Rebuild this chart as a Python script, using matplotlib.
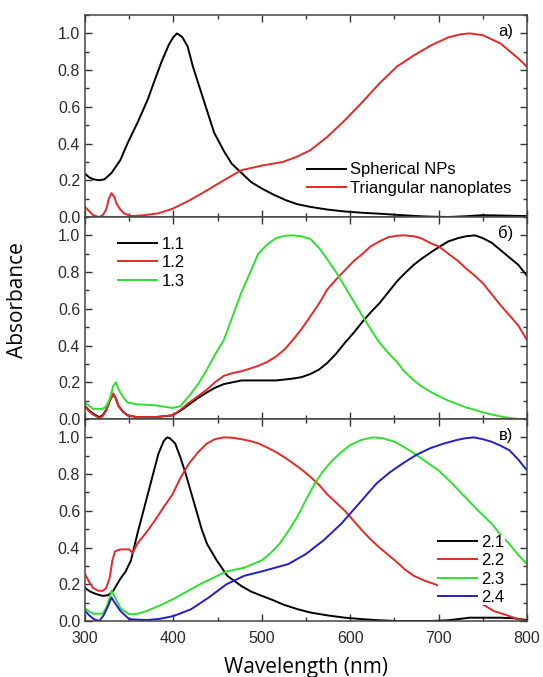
import matplotlib
matplotlib.use("Agg")
import matplotlib.pyplot as plt
from matplotlib.ticker import MultipleLocator

plt.rcParams['font.family'] = ['Liberation Sans', 'DejaVu Sans']

# ---- Panel a) ----
a_sph_wl = [300, 305, 310, 316, 322, 330, 340, 348, 360, 371, 380, 387, 395, 400, 404, 410, 416, 422, 430, 438, 446, 457, 466, 477, 488, 500, 514, 528, 540, 555, 575, 594, 614, 633, 652, 672, 690, 711, 730, 750, 770, 800]
a_sph = [0.236, 0.215, 0.205, 0.20, 0.205, 0.24, 0.31, 0.40, 0.52, 0.64, 0.76, 0.85, 0.94, 0.98, 1.0, 0.98, 0.93, 0.82, 0.70, 0.58, 0.46, 0.36, 0.29, 0.24, 0.19, 0.155, 0.12, 0.09, 0.07, 0.055, 0.04, 0.03, 0.023, 0.018, 0.012, 0.006, 0.002, 0.0, 0.004, 0.01, 0.008, 0.005]
a_tri_wl = [300, 305, 309, 316, 320, 324, 327, 330, 333, 336, 340, 344, 352, 367, 383, 399, 418, 438, 457, 477, 500, 524, 539, 555, 574, 594, 614, 633, 653, 672, 692, 711, 725, 735, 750, 770, 790, 800]
a_tri = [0.055, 0.03, 0.01, 0.0, 0.01, 0.04, 0.10, 0.13, 0.11, 0.07, 0.04, 0.02, 0.005, 0.01, 0.02, 0.045, 0.09, 0.145, 0.20, 0.255, 0.28, 0.30, 0.327, 0.364, 0.436, 0.527, 0.627, 0.727, 0.82, 0.88, 0.936, 0.978, 0.995, 1.0, 0.99, 0.945, 0.864, 0.818]

# ---- Panel б) ----
b_wl = [300, 305, 309, 316, 320, 324, 328, 332, 335, 338, 343, 348, 359, 379, 399, 408, 418, 428, 438, 447, 457, 467, 477, 487, 496, 506, 516, 526, 535, 545, 555, 565, 574, 584, 594, 604, 614, 623, 633, 643, 653, 661, 672, 680, 692, 700, 711, 722, 731, 741, 750, 760, 770, 780, 790, 800]
b_11 = [0.07, 0.045, 0.03, 0.01, 0.02, 0.05, 0.10, 0.135, 0.11, 0.07, 0.04, 0.02, 0.01, 0.01, 0.02, 0.045, 0.08, 0.115, 0.145, 0.17, 0.19, 0.20, 0.21, 0.21, 0.21, 0.21, 0.21, 0.215, 0.22, 0.228, 0.245, 0.27, 0.305, 0.355, 0.415, 0.47, 0.53, 0.58, 0.63, 0.69, 0.75, 0.79, 0.84, 0.87, 0.91, 0.935, 0.967, 0.985, 0.995, 1.0, 0.985, 0.96, 0.92, 0.88, 0.84, 0.78]
b_12 = [0.065, 0.04, 0.025, 0.005, 0.015, 0.045, 0.10, 0.14, 0.11, 0.07, 0.04, 0.02, 0.01, 0.01, 0.02, 0.05, 0.09, 0.125, 0.16, 0.20, 0.235, 0.25, 0.26, 0.275, 0.29, 0.31, 0.34, 0.38, 0.43, 0.49, 0.56, 0.63, 0.705, 0.76, 0.81, 0.86, 0.90, 0.94, 0.967, 0.99, 0.998, 1.0, 0.995, 0.985, 0.955, 0.94, 0.90, 0.86, 0.82, 0.78, 0.74, 0.68, 0.62, 0.565, 0.51, 0.43]
b_13 = [0.09, 0.07, 0.055, 0.055, 0.055, 0.07, 0.11, 0.18, 0.2, 0.16, 0.12, 0.09, 0.08, 0.075, 0.06, 0.07, 0.127, 0.19, 0.27, 0.35, 0.43, 0.56, 0.69, 0.80, 0.90, 0.95, 0.985, 0.998, 1.0, 0.995, 0.98, 0.93, 0.87, 0.80, 0.72, 0.64, 0.56, 0.49, 0.416, 0.36, 0.31, 0.26, 0.21, 0.18, 0.145, 0.125, 0.10, 0.08, 0.063, 0.05, 0.036, 0.025, 0.014, 0.006, 0.0, 0.0]

# ---- Panel в) ----
c_21_wl = [300, 306, 313, 320, 326, 332, 340, 346, 352, 359, 365, 371, 377, 383, 389, 393, 396, 402, 408, 414, 420, 426, 432, 438, 449, 461, 477, 488, 500, 512, 524, 540, 555, 575, 594, 614, 633, 652, 672, 692, 711, 725, 735, 750, 770, 785, 800]
c_21 = [0.18, 0.16, 0.146, 0.137, 0.14, 0.165, 0.23, 0.27, 0.33, 0.47, 0.58, 0.69, 0.80, 0.91, 0.98, 1.0, 0.995, 0.967, 0.89, 0.80, 0.70, 0.60, 0.50, 0.42, 0.33, 0.246, 0.19, 0.16, 0.137, 0.115, 0.09, 0.065, 0.046, 0.03, 0.018, 0.01, 0.004, 0.0, 0.0, 0.0, 0.004, 0.012, 0.018, 0.018, 0.018, 0.015, 0.005]
c_22_wl = [300, 305, 309, 315, 320, 324, 328, 331, 334, 340, 346, 350, 354, 359, 369, 379, 389, 399, 408, 418, 428, 438, 447, 457, 467, 477, 487, 496, 506, 516, 526, 535, 545, 555, 565, 574, 584, 594, 604, 614, 623, 633, 643, 653, 662, 672, 684, 696, 710, 725, 740, 752, 762, 775, 790, 800]
c_22 = [0.255, 0.21, 0.18, 0.165, 0.164, 0.18, 0.237, 0.33, 0.38, 0.39, 0.39, 0.39, 0.37, 0.42, 0.48, 0.547, 0.62, 0.69, 0.78, 0.86, 0.92, 0.967, 0.99, 1.0, 0.998, 0.99, 0.98, 0.967, 0.945, 0.92, 0.89, 0.86, 0.825, 0.785, 0.74, 0.69, 0.645, 0.60, 0.545, 0.49, 0.445, 0.40, 0.36, 0.32, 0.28, 0.246, 0.22, 0.20, 0.17, 0.14, 0.11, 0.085, 0.055, 0.035, 0.01, 0.0]
c_23_wl = [300, 305, 310, 320, 325, 330, 335, 340, 350, 360, 370, 385, 400, 415, 430, 445, 460, 480, 500, 510, 520, 530, 540, 550, 560, 570, 580, 590, 600, 612, 625, 637, 650, 660, 670, 685, 700, 715, 730, 745, 760, 770, 780, 790, 800]
c_23 = [0.07, 0.05, 0.04, 0.04, 0.08, 0.165, 0.12, 0.07, 0.036, 0.04, 0.055, 0.085, 0.12, 0.16, 0.20, 0.235, 0.27, 0.29, 0.33, 0.37, 0.42, 0.49, 0.566, 0.66, 0.75, 0.82, 0.876, 0.92, 0.958, 0.985, 1.0, 0.995, 0.976, 0.95, 0.92, 0.87, 0.82, 0.75, 0.675, 0.60, 0.53, 0.47, 0.42, 0.36, 0.31]
c_24_wl = [300, 305, 310, 316, 321, 325, 330, 335, 340, 350, 370, 385, 400, 420, 440, 460, 480, 500, 515, 530, 550, 570, 590, 610, 630, 645, 660, 675, 690, 705, 720, 730, 740, 750, 760, 770, 780, 790, 800]
c_24 = [0.055, 0.03, 0.01, 0.0, 0.03, 0.07, 0.128, 0.09, 0.055, 0.01, 0.005, 0.012, 0.027, 0.064, 0.128, 0.20, 0.246, 0.27, 0.29, 0.31, 0.365, 0.44, 0.53, 0.64, 0.75, 0.81, 0.86, 0.905, 0.94, 0.965, 0.985, 0.995, 1.0, 0.99, 0.976, 0.955, 0.93, 0.88, 0.82]

panel_tags = ['a)', 'б)', 'в)']

W, H = 543, 677
fig = plt.figure(figsize=(W / 100, H / 100), dpi=100)
L_px, R_px, top_px, bot_px = 85, 527, 15, 621
ph = (bot_px - top_px) / 3
axes = []
for i in range(3):
    y0 = 1 - (top_px + (i + 1) * ph) / H
    ax = fig.add_axes([L_px / W, y0, (R_px - L_px) / W, ph / H])
    axes.append(ax)

RED, GREEN, BLUE = '#e62828', '#2ee02e', '#2020c8'
lw = 1.4
axA, axB, axC = axes
axA.plot(a_sph_wl, a_sph, color='black', lw=lw, label='Spherical NPs')
axA.plot(a_tri_wl, a_tri, color=RED, lw=lw, label='Triangular nanoplates')
axB.plot(b_wl, b_11, color='black', lw=lw, label='1.1')
axB.plot(b_wl, b_12, color=RED, lw=lw, label='1.2')
axB.plot(b_wl, b_13, color=GREEN, lw=lw, label='1.3')
axC.plot(c_21_wl, c_21, color='black', lw=lw, label='2.1')
axC.plot(c_22_wl, c_22, color=RED, lw=lw, label='2.2')
axC.plot(c_23_wl, c_23, color=GREEN, lw=lw, label='2.3')
axC.plot(c_24_wl, c_24, color=BLUE, lw=lw, label='2.4')

leg_kw = dict(loc='upper left', frameon=True, fancybox=False, edgecolor='none', facecolor='white',
              framealpha=1, handlelength=2.35, handletextpad=0.25, borderpad=0.0,
              borderaxespad=0.0, labelspacing=0.21, fontsize=12)
axA.legend(bbox_to_anchor=(0.502, 0.27), **leg_kw)
axB.legend(bbox_to_anchor=(0.075, 0.903), **leg_kw)
axC.legend(bbox_to_anchor=(0.799, 0.428), **leg_kw)

for i, ax in enumerate(axes):
    ax.set_xlim(300, 800)
    ax.set_ylim(0, 1.1)
    ax.xaxis.set_major_locator(MultipleLocator(100))
    ax.xaxis.set_minor_locator(MultipleLocator(50))
    ax.yaxis.set_major_locator(MultipleLocator(0.2))
    ax.yaxis.set_minor_locator(MultipleLocator(0.1))
    ax.yaxis.set_major_formatter(plt.FuncFormatter(lambda v, p: f'{v:.1f}'))
    ax.tick_params(which='both', direction='in', top=True, right=True, labelsize=11.5,
                   colors='#333333', labelcolor='#2a2a2a')
    ax.tick_params(which='major', length=5, width=1)
    ax.tick_params(which='minor', length=3, width=1)
    ax.tick_params(axis='x', which='major', pad=7)
    for s in ax.spines.values():
        s.set_linewidth(1.1)
        s.set_color('#444444')
    if i < 2:
        ax.tick_params(labelbottom=False)
    ax.text(0.968, 0.918, panel_tags[i], transform=ax.transAxes, ha='right', va='center', fontsize=12)

axC.set_xlabel('Wavelength (nm)', fontsize=15, family=['Open Sans', 'DejaVu Sans'], labelpad=8)
fig.text(18 / W, 1 - 300 / H, 'Absorbance', rotation=90, ha='center', va='center', fontsize=15,
         family=['Open Sans', 'DejaVu Sans'])

fig.savefig('out.png', dpi=100)
